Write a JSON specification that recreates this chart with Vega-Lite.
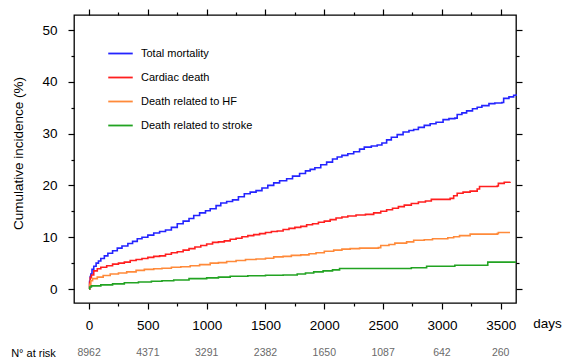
{
  "$schema": "https://vega.github.io/schema/vega-lite/v6.json",
  "width": 442,
  "height": 288,
  "autosize": {"type": "none"},
  "padding": {"left": 74, "top": 15, "right": 48, "bottom": 58},
  "background": "white",
  "config": {
    "view": {"stroke": "#000", "strokeWidth": 1.3},
    "font": "Liberation Sans",
    "axis": {"labelFont": "Liberation Sans", "titleFont": "Liberation Sans", "labelColor": "#000", "titleColor": "#000", "tickColor": "#000", "tickWidth": 1.2, "grid": false, "domain": false}
  },
  "datasets": {
    "curves": [
      {"series": "Total mortality", "day": 0, "pct": 0},
      {"series": "Total mortality", "day": 5, "pct": 1.5},
      {"series": "Total mortality", "day": 10, "pct": 2.4},
      {"series": "Total mortality", "day": 15, "pct": 2.9},
      {"series": "Total mortality", "day": 25, "pct": 3.8},
      {"series": "Total mortality", "day": 40, "pct": 4.4},
      {"series": "Total mortality", "day": 60, "pct": 5.0},
      {"series": "Total mortality", "day": 80, "pct": 5.4},
      {"series": "Total mortality", "day": 100, "pct": 5.9},
      {"series": "Total mortality", "day": 130, "pct": 6.4},
      {"series": "Total mortality", "day": 160, "pct": 6.9},
      {"series": "Total mortality", "day": 200, "pct": 7.4},
      {"series": "Total mortality", "day": 240, "pct": 7.9},
      {"series": "Total mortality", "day": 280, "pct": 8.3},
      {"series": "Total mortality", "day": 330, "pct": 8.8},
      {"series": "Total mortality", "day": 370, "pct": 9.2},
      {"series": "Total mortality", "day": 410, "pct": 9.7},
      {"series": "Total mortality", "day": 450, "pct": 10.0},
      {"series": "Total mortality", "day": 500, "pct": 10.4},
      {"series": "Total mortality", "day": 550, "pct": 10.8},
      {"series": "Total mortality", "day": 600, "pct": 11.1},
      {"series": "Total mortality", "day": 650, "pct": 11.4},
      {"series": "Total mortality", "day": 700, "pct": 11.9},
      {"series": "Total mortality", "day": 750, "pct": 12.6},
      {"series": "Total mortality", "day": 800, "pct": 13.1},
      {"series": "Total mortality", "day": 850, "pct": 13.6},
      {"series": "Total mortality", "day": 890, "pct": 14.2},
      {"series": "Total mortality", "day": 940, "pct": 14.7},
      {"series": "Total mortality", "day": 990, "pct": 15.1},
      {"series": "Total mortality", "day": 1030, "pct": 15.5},
      {"series": "Total mortality", "day": 1080, "pct": 16.1},
      {"series": "Total mortality", "day": 1120, "pct": 16.6},
      {"series": "Total mortality", "day": 1170, "pct": 16.9},
      {"series": "Total mortality", "day": 1220, "pct": 17.2},
      {"series": "Total mortality", "day": 1270, "pct": 17.8},
      {"series": "Total mortality", "day": 1320, "pct": 18.4},
      {"series": "Total mortality", "day": 1370, "pct": 18.7},
      {"series": "Total mortality", "day": 1420, "pct": 19.0},
      {"series": "Total mortality", "day": 1470, "pct": 19.5},
      {"series": "Total mortality", "day": 1520, "pct": 20.0},
      {"series": "Total mortality", "day": 1570, "pct": 20.5},
      {"series": "Total mortality", "day": 1620, "pct": 20.9},
      {"series": "Total mortality", "day": 1680, "pct": 21.3},
      {"series": "Total mortality", "day": 1730, "pct": 21.8},
      {"series": "Total mortality", "day": 1790, "pct": 22.3},
      {"series": "Total mortality", "day": 1840, "pct": 22.8},
      {"series": "Total mortality", "day": 1880, "pct": 23.1},
      {"series": "Total mortality", "day": 1920, "pct": 23.4},
      {"series": "Total mortality", "day": 1970, "pct": 24.0},
      {"series": "Total mortality", "day": 2020, "pct": 24.5},
      {"series": "Total mortality", "day": 2070, "pct": 25.1},
      {"series": "Total mortality", "day": 2110, "pct": 25.5},
      {"series": "Total mortality", "day": 2150, "pct": 25.8},
      {"series": "Total mortality", "day": 2200, "pct": 26.1},
      {"series": "Total mortality", "day": 2250, "pct": 26.5},
      {"series": "Total mortality", "day": 2300, "pct": 27.0},
      {"series": "Total mortality", "day": 2340, "pct": 27.4},
      {"series": "Total mortality", "day": 2400, "pct": 27.6},
      {"series": "Total mortality", "day": 2450, "pct": 27.8},
      {"series": "Total mortality", "day": 2490, "pct": 28.2},
      {"series": "Total mortality", "day": 2530, "pct": 28.8},
      {"series": "Total mortality", "day": 2570, "pct": 29.3},
      {"series": "Total mortality", "day": 2620, "pct": 29.8},
      {"series": "Total mortality", "day": 2670, "pct": 30.3},
      {"series": "Total mortality", "day": 2720, "pct": 30.6},
      {"series": "Total mortality", "day": 2760, "pct": 30.8},
      {"series": "Total mortality", "day": 2800, "pct": 31.2},
      {"series": "Total mortality", "day": 2850, "pct": 31.6},
      {"series": "Total mortality", "day": 2900, "pct": 31.9},
      {"series": "Total mortality", "day": 2950, "pct": 32.2},
      {"series": "Total mortality", "day": 3010, "pct": 32.7},
      {"series": "Total mortality", "day": 3060, "pct": 32.9},
      {"series": "Total mortality", "day": 3110, "pct": 33.0},
      {"series": "Total mortality", "day": 3130, "pct": 33.7},
      {"series": "Total mortality", "day": 3170, "pct": 34.0},
      {"series": "Total mortality", "day": 3210, "pct": 34.4},
      {"series": "Total mortality", "day": 3260, "pct": 34.8},
      {"series": "Total mortality", "day": 3300, "pct": 35.1},
      {"series": "Total mortality", "day": 3340, "pct": 35.4},
      {"series": "Total mortality", "day": 3400, "pct": 35.8},
      {"series": "Total mortality", "day": 3450, "pct": 35.9},
      {"series": "Total mortality", "day": 3510, "pct": 36.0},
      {"series": "Total mortality", "day": 3525, "pct": 36.8},
      {"series": "Total mortality", "day": 3570, "pct": 37.1},
      {"series": "Total mortality", "day": 3610, "pct": 37.4},
      {"series": "Total mortality", "day": 3630, "pct": 37.6},
      {"series": "Cardiac death", "day": 0, "pct": 0},
      {"series": "Cardiac death", "day": 5, "pct": 1.3},
      {"series": "Cardiac death", "day": 10, "pct": 2.2},
      {"series": "Cardiac death", "day": 20, "pct": 2.7},
      {"series": "Cardiac death", "day": 40, "pct": 3.5},
      {"series": "Cardiac death", "day": 70, "pct": 3.9},
      {"series": "Cardiac death", "day": 100, "pct": 4.2},
      {"series": "Cardiac death", "day": 150, "pct": 4.5},
      {"series": "Cardiac death", "day": 200, "pct": 4.8},
      {"series": "Cardiac death", "day": 250, "pct": 5.0},
      {"series": "Cardiac death", "day": 300, "pct": 5.2},
      {"series": "Cardiac death", "day": 350, "pct": 5.5},
      {"series": "Cardiac death", "day": 400, "pct": 5.7},
      {"series": "Cardiac death", "day": 450, "pct": 5.9},
      {"series": "Cardiac death", "day": 500, "pct": 6.1},
      {"series": "Cardiac death", "day": 550, "pct": 6.3},
      {"series": "Cardiac death", "day": 600, "pct": 6.4},
      {"series": "Cardiac death", "day": 650, "pct": 6.7},
      {"series": "Cardiac death", "day": 700, "pct": 7.0},
      {"series": "Cardiac death", "day": 750, "pct": 7.2},
      {"series": "Cardiac death", "day": 800, "pct": 7.5},
      {"series": "Cardiac death", "day": 850, "pct": 7.8},
      {"series": "Cardiac death", "day": 900, "pct": 8.1},
      {"series": "Cardiac death", "day": 950, "pct": 8.4},
      {"series": "Cardiac death", "day": 1000, "pct": 8.7},
      {"series": "Cardiac death", "day": 1050, "pct": 9.0},
      {"series": "Cardiac death", "day": 1100, "pct": 9.1},
      {"series": "Cardiac death", "day": 1150, "pct": 9.3},
      {"series": "Cardiac death", "day": 1200, "pct": 9.6},
      {"series": "Cardiac death", "day": 1250, "pct": 9.8},
      {"series": "Cardiac death", "day": 1300, "pct": 10.1},
      {"series": "Cardiac death", "day": 1350, "pct": 10.3},
      {"series": "Cardiac death", "day": 1400, "pct": 10.5},
      {"series": "Cardiac death", "day": 1450, "pct": 10.7},
      {"series": "Cardiac death", "day": 1500, "pct": 10.9},
      {"series": "Cardiac death", "day": 1550, "pct": 11.1},
      {"series": "Cardiac death", "day": 1600, "pct": 11.2},
      {"series": "Cardiac death", "day": 1650, "pct": 11.5},
      {"series": "Cardiac death", "day": 1700, "pct": 11.7},
      {"series": "Cardiac death", "day": 1750, "pct": 11.9},
      {"series": "Cardiac death", "day": 1800, "pct": 12.1},
      {"series": "Cardiac death", "day": 1850, "pct": 12.4},
      {"series": "Cardiac death", "day": 1900, "pct": 12.6},
      {"series": "Cardiac death", "day": 1950, "pct": 12.9},
      {"series": "Cardiac death", "day": 2000, "pct": 13.1},
      {"series": "Cardiac death", "day": 2050, "pct": 13.4},
      {"series": "Cardiac death", "day": 2100, "pct": 13.7},
      {"series": "Cardiac death", "day": 2150, "pct": 13.9},
      {"series": "Cardiac death", "day": 2200, "pct": 14.1},
      {"series": "Cardiac death", "day": 2270, "pct": 14.3},
      {"series": "Cardiac death", "day": 2350, "pct": 14.4},
      {"series": "Cardiac death", "day": 2420, "pct": 14.7},
      {"series": "Cardiac death", "day": 2480, "pct": 15.0},
      {"series": "Cardiac death", "day": 2530, "pct": 15.3},
      {"series": "Cardiac death", "day": 2580, "pct": 15.6},
      {"series": "Cardiac death", "day": 2630, "pct": 15.9},
      {"series": "Cardiac death", "day": 2680, "pct": 16.2},
      {"series": "Cardiac death", "day": 2740, "pct": 16.5},
      {"series": "Cardiac death", "day": 2800, "pct": 16.8},
      {"series": "Cardiac death", "day": 2860, "pct": 17.0},
      {"series": "Cardiac death", "day": 2910, "pct": 17.3},
      {"series": "Cardiac death", "day": 3070, "pct": 17.5},
      {"series": "Cardiac death", "day": 3100, "pct": 18.0},
      {"series": "Cardiac death", "day": 3130, "pct": 18.5},
      {"series": "Cardiac death", "day": 3180, "pct": 18.7},
      {"series": "Cardiac death", "day": 3240, "pct": 18.9},
      {"series": "Cardiac death", "day": 3300, "pct": 19.3},
      {"series": "Cardiac death", "day": 3320, "pct": 19.8},
      {"series": "Cardiac death", "day": 3470, "pct": 19.9},
      {"series": "Cardiac death", "day": 3480, "pct": 20.4},
      {"series": "Cardiac death", "day": 3530, "pct": 20.6},
      {"series": "Cardiac death", "day": 3579, "pct": 20.7},
      {"series": "Death related to HF", "day": 0, "pct": 0},
      {"series": "Death related to HF", "day": 5, "pct": 0.9},
      {"series": "Death related to HF", "day": 15, "pct": 1.6},
      {"series": "Death related to HF", "day": 30, "pct": 2.0},
      {"series": "Death related to HF", "day": 70, "pct": 2.3},
      {"series": "Death related to HF", "day": 120, "pct": 2.6},
      {"series": "Death related to HF", "day": 180, "pct": 2.9},
      {"series": "Death related to HF", "day": 250, "pct": 3.1},
      {"series": "Death related to HF", "day": 320, "pct": 3.3},
      {"series": "Death related to HF", "day": 400, "pct": 3.6},
      {"series": "Death related to HF", "day": 470, "pct": 3.8},
      {"series": "Death related to HF", "day": 550, "pct": 3.9},
      {"series": "Death related to HF", "day": 620, "pct": 4.0},
      {"series": "Death related to HF", "day": 700, "pct": 4.2},
      {"series": "Death related to HF", "day": 780, "pct": 4.3},
      {"series": "Death related to HF", "day": 860, "pct": 4.5},
      {"series": "Death related to HF", "day": 940, "pct": 4.7},
      {"series": "Death related to HF", "day": 1030, "pct": 5.0},
      {"series": "Death related to HF", "day": 1100, "pct": 5.1},
      {"series": "Death related to HF", "day": 1170, "pct": 5.3},
      {"series": "Death related to HF", "day": 1250, "pct": 5.5},
      {"series": "Death related to HF", "day": 1330, "pct": 5.7},
      {"series": "Death related to HF", "day": 1420, "pct": 5.8},
      {"series": "Death related to HF", "day": 1500, "pct": 5.95},
      {"series": "Death related to HF", "day": 1570, "pct": 6.2},
      {"series": "Death related to HF", "day": 1650, "pct": 6.3},
      {"series": "Death related to HF", "day": 1720, "pct": 6.5},
      {"series": "Death related to HF", "day": 1800, "pct": 6.6},
      {"series": "Death related to HF", "day": 1870, "pct": 6.8},
      {"series": "Death related to HF", "day": 1930, "pct": 7.0},
      {"series": "Death related to HF", "day": 2000, "pct": 7.3},
      {"series": "Death related to HF", "day": 2080, "pct": 7.5},
      {"series": "Death related to HF", "day": 2150, "pct": 7.7},
      {"series": "Death related to HF", "day": 2220, "pct": 7.8},
      {"series": "Death related to HF", "day": 2300, "pct": 7.9},
      {"series": "Death related to HF", "day": 2460, "pct": 8.0},
      {"series": "Death related to HF", "day": 2480, "pct": 8.4},
      {"series": "Death related to HF", "day": 2550, "pct": 8.6},
      {"series": "Death related to HF", "day": 2600, "pct": 8.85},
      {"series": "Death related to HF", "day": 2700, "pct": 9.1},
      {"series": "Death related to HF", "day": 2760, "pct": 9.4},
      {"series": "Death related to HF", "day": 2850, "pct": 9.5},
      {"series": "Death related to HF", "day": 2920, "pct": 9.7},
      {"series": "Death related to HF", "day": 3050, "pct": 9.9},
      {"series": "Death related to HF", "day": 3100, "pct": 10.1},
      {"series": "Death related to HF", "day": 3150, "pct": 10.3},
      {"series": "Death related to HF", "day": 3240, "pct": 10.6},
      {"series": "Death related to HF", "day": 3470, "pct": 10.7},
      {"series": "Death related to HF", "day": 3480, "pct": 10.9},
      {"series": "Death related to HF", "day": 3579, "pct": 10.9},
      {"series": "Death related to stroke", "day": 0, "pct": 0},
      {"series": "Death related to stroke", "day": 5, "pct": 0.4},
      {"series": "Death related to stroke", "day": 20, "pct": 0.6},
      {"series": "Death related to stroke", "day": 100, "pct": 0.8},
      {"series": "Death related to stroke", "day": 200, "pct": 1.0},
      {"series": "Death related to stroke", "day": 300, "pct": 1.2},
      {"series": "Death related to stroke", "day": 420, "pct": 1.35},
      {"series": "Death related to stroke", "day": 530, "pct": 1.5},
      {"series": "Death related to stroke", "day": 620, "pct": 1.6},
      {"series": "Death related to stroke", "day": 720, "pct": 1.75},
      {"series": "Death related to stroke", "day": 850, "pct": 2.0},
      {"series": "Death related to stroke", "day": 1000, "pct": 2.15},
      {"series": "Death related to stroke", "day": 1100, "pct": 2.3},
      {"series": "Death related to stroke", "day": 1200, "pct": 2.45},
      {"series": "Death related to stroke", "day": 1350, "pct": 2.55},
      {"series": "Death related to stroke", "day": 1500, "pct": 2.65},
      {"series": "Death related to stroke", "day": 1650, "pct": 2.7},
      {"series": "Death related to stroke", "day": 1770, "pct": 2.9},
      {"series": "Death related to stroke", "day": 1840, "pct": 3.1},
      {"series": "Death related to stroke", "day": 1910, "pct": 3.3},
      {"series": "Death related to stroke", "day": 1990, "pct": 3.5},
      {"series": "Death related to stroke", "day": 2070, "pct": 3.7},
      {"series": "Death related to stroke", "day": 2130, "pct": 3.95},
      {"series": "Death related to stroke", "day": 2740, "pct": 4.1},
      {"series": "Death related to stroke", "day": 2870, "pct": 4.4},
      {"series": "Death related to stroke", "day": 3110, "pct": 4.6},
      {"series": "Death related to stroke", "day": 3390, "pct": 5.2},
      {"series": "Death related to stroke", "day": 3630, "pct": 5.2}
    ],
    "risk": [
      {"day": 0, "n": 8962},
      {"day": 500, "n": 4371},
      {"day": 1000, "n": 3291},
      {"day": 1500, "n": 2382},
      {"day": 2000, "n": 1650},
      {"day": 2500, "n": 1087},
      {"day": 3000, "n": 642},
      {"day": 3500, "n": 260}
    ]
  },
  "resolve": {"axis": {"x": "independent", "y": "independent"}},
  "layer": [
    {
      "data": {"name": "curves"},
      "mark": {"type": "line", "interpolate": "step-after", "strokeWidth": 1.6},
      "encoding": {
        "x": {
          "field": "day", "type": "quantitative",
          "scale": {"domain": [-128, 3630], "nice": false, "zero": false},
          "axis": {
            "orient": "bottom",
            "values": [0, 250, 500, 750, 1000, 1250, 1500, 1750, 2000, 2250, 2500, 2750, 3000, 3250, 3500],
            "format": "d",
            "labelExpr": "datum.value % 500 === 0 ? datum.label : ''",
            "tickSize": {"condition": {"test": "datum.value % 500 === 0", "value": 6}, "value": 3},
            "labelFontSize": 13.5, "labelPadding": 9, "labelOverlap": false, "labelFlush": false,
            "title": "days", "titleX": 473, "titleY": 20, "titleFontSize": 13.5, "titleFontWeight": "normal",
            "titleBaseline": "middle", "titleAlign": "center", "titleAngle": 0
          }
        },
        "y": {
          "field": "pct", "type": "quantitative",
          "scale": {"domain": [-2.7, 52.9], "nice": false, "zero": false},
          "axis": {
            "orient": "left",
            "values": [0, 5, 10, 15, 20, 25, 30, 35, 40, 45, 50],
            "format": "d",
            "labelExpr": "datum.value % 10 === 0 ? datum.label : ''",
            "tickSize": {"condition": {"test": "datum.value % 10 === 0", "value": 6}, "value": 3},
            "labelFontSize": 13.5, "labelPadding": 11, "labelOverlap": false, "labelFlush": false,
            "title": "Cumulative incidence (%)", "titleX": -55.5, "titleY": 138, "titleFontSize": 13.5,
            "titleFontWeight": "normal", "titleAngle": -90, "titleBaseline": "middle", "titleAlign": "center"
          }
        },
        "color": {
          "field": "series", "type": "nominal",
          "scale": {
            "domain": ["Total mortality", "Cardiac death", "Death related to HF", "Death related to stroke"],
            "range": ["#2424ff", "#ff1f1f", "#ff8a3a", "#22a322"]
          },
          "legend": {
            "orient": "none", "legendX": 33, "legendY": 25, "title": null,
            "symbolType": "stroke", "symbolSize": 600, "symbolStrokeWidth": 1.8,
            "labelFontSize": 11, "labelFont": "Liberation Sans", "labelColor": "#000",
            "labelOffset": 7, "rowPadding": 5, "padding": 0
          }
        }
      }
    },
    {
      "data": {"name": "risk"},
      "mark": {"type": "text", "fontSize": 10.5, "color": "#6a6a6a", "font": "Liberation Sans", "baseline": "middle", "align": "center"},
      "encoding": {
        "x": {
          "field": "day", "type": "quantitative",
          "scale": {"domain": [-128, 3630], "nice": false, "zero": false},
          "axis": {
            "orient": "top",
            "values": [0, 250, 500, 750, 1000, 1250, 1500, 1750, 2000, 2250, 2500, 2750, 3000, 3250, 3500],
            "labels": false,
            "tickSize": {"condition": {"test": "datum.value % 500 === 0", "value": 6}, "value": 3},
            "title": "N° at risk", "titleX": -41, "titleY": 338, "titleFontSize": 11, "titleFontWeight": "normal",
            "titleBaseline": "middle", "titleAlign": "center", "titleAngle": 0
          }
        },
        "y": {
          "datum": -12.35, "type": "quantitative",
          "scale": {"domain": [-2.7, 52.9], "nice": false, "zero": false},
          "axis": {
            "orient": "right",
            "values": [0, 5, 10, 15, 20, 25, 30, 35, 40, 45, 50],
            "labels": false,
            "tickSize": {"condition": {"test": "datum.value % 10 === 0", "value": 6}, "value": 3},
            "title": null
          }
        },
        "text": {"field": "n", "type": "quantitative", "format": "d"}
      }
    }
  ]
}
